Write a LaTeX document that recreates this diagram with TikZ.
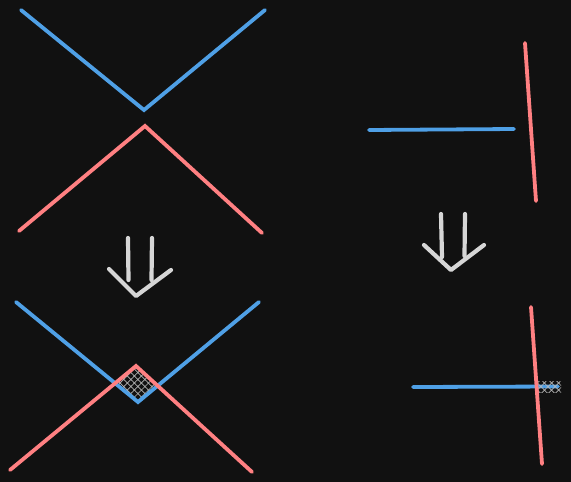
\documentclass[tikz,border=0pt]{standalone}
\usetikzlibrary{patterns.meta}
\definecolor{bg}{HTML}{111111}
\definecolor{bl}{HTML}{4FA0E6}
\definecolor{rd}{HTML}{FF8082}
\definecolor{ar}{HTML}{D6D6D6}
\definecolor{ht}{HTML}{B8B8B8}
\tikzset{
  blueline/.style={draw=bl,line width=3.8pt,line cap=round,line join=miter},
  redline/.style={draw=rd,line width=3.8pt,line cap=round,line join=miter},
  arrowstroke/.style={draw=ar,line width=4.2pt,line cap=round,line join=round},
  hatchA/.style={pattern={Lines[angle=45,distance=5pt,line width=0.7pt]},pattern color=ht},
  hatchB/.style={pattern={Lines[angle=-45,distance=5pt,line width=0.7pt]},pattern color=ht},
}
\begin{document}
\begin{tikzpicture}[x=1pt,y=-1pt]
\fill[bg] (0,0) rectangle (571,482);
\useasboundingbox (0,0) rectangle (571,482);
% top left
\draw[blueline] (21,10) -- (144,110) -- (265,10);
\draw[redline] (19,231) -- (145,126) -- (262,233);
% top right
\draw[blueline] (369,130) -- (514,129);
\draw[redline] (525,43) -- (536,201);
% arrow left
\draw[arrowstroke] (128,238) -- (128.5,280);
\draw[arrowstroke] (152,238) -- (151.5,280);
\draw[arrowstroke] (109,269) -- (136,296) -- (171,270);
% arrow right
\draw[arrowstroke] (441,214) -- (442,257);
\draw[arrowstroke] (465,214) -- (464.5,256);
\draw[arrowstroke] (424,245) -- (451,270) -- (484,245);
% bottom left hatch
\fill[hatchA] (136,366) -- (156.5,384) -- (138,400) -- (117,383) -- cycle;
\fill[hatchB] (136,366) -- (156.5,384) -- (138,400) -- (117,383) -- cycle;
\draw[blueline] (16,302) -- (138,402) -- (259,302);
\draw[redline] (10,470) -- (136,366) -- (252,472);
% bottom right
\draw[blueline] (413,387) -- (558,386.5);
\fill[hatchA] (536,381) rectangle (561,392);
\fill[hatchB] (536,381) rectangle (561,392);
\draw[redline] (531,307) -- (542,464);
\end{tikzpicture}
\end{document}
